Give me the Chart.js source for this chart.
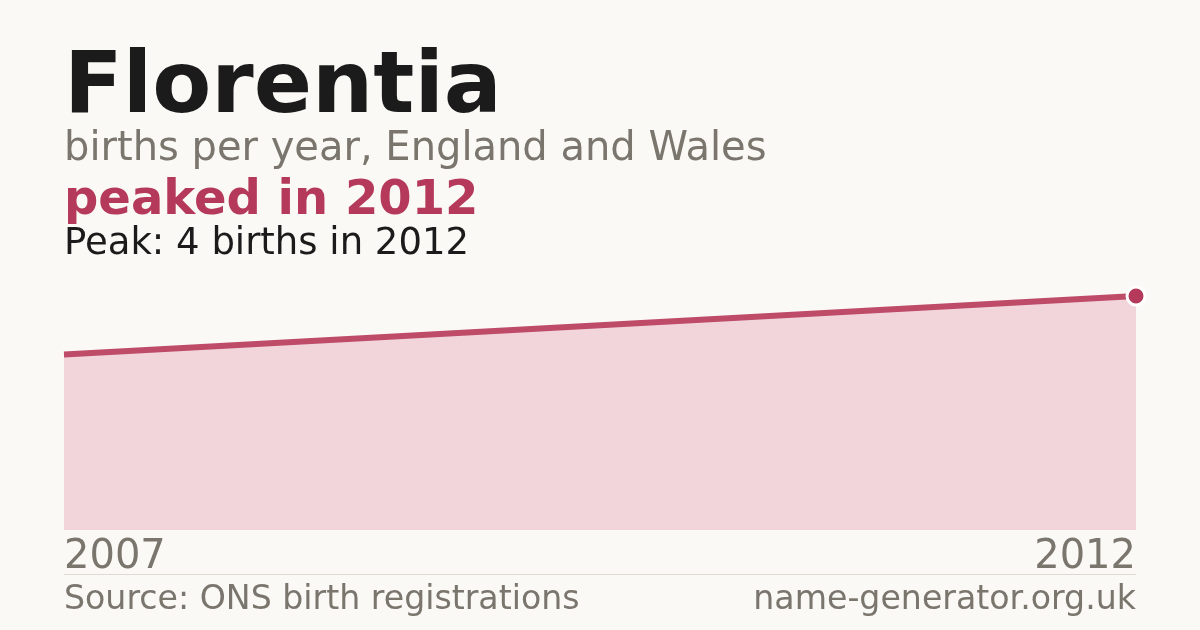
<!DOCTYPE html>
<html>
<head>
<meta charset="utf-8">
<script src="https://cdn.jsdelivr.net/npm/chart.js@4/dist/chart.umd.min.js"></script>
<style>
  html, body { margin: 0; padding: 0; background: #faf9f5; }
  body { width: 1200px; height: 630px; position: relative; overflow: hidden; font-family: "DejaVu Sans", sans-serif; }
  #c { position: absolute; left: 0; top: 0; }
  .t { position: absolute; left: 64px; white-space: nowrap; line-height: 1; }
  #title { top: 39px; font-size: 86px; font-weight: bold; color: #1b1b1b; }
  #sub { top: 126px; font-size: 40px; color: #7a756d; }
  #peaked { top: 173px; font-size: 48px; font-weight: bold; color: #b5395a; }
  #peak { top: 223px; font-size: 37px; color: #1b1b1b; }
  #sep { position: absolute; left: 64px; top: 574px; width: 1072px; height: 1px; background: #dedad2; }
  #src { top: 581px; font-size: 33.2px; color: #7a756d; }
  #site { top: 581px; left: auto; right: 64px; font-size: 33.2px; color: #7a756d; }
</style>
</head>
<body>
<canvas id="c" width="1200" height="630" style="width:1200px;height:630px"></canvas>
<div class="t" id="title">Florentia</div>
<div class="t" id="sub">births per year, England and Wales</div>
<div class="t" id="peaked">peaked in 2012</div>
<div class="t" id="peak">Peak: 4 births in 2012</div>
<div id="sep"></div>
<div class="t" id="src">Source: ONS birth registrations</div>
<div class="t" id="site">name-generator.org.uk</div>
<script>
const years = ['2007', '2012'];
const births = [3, 4];
const peakValue = 4;

Chart.defaults.font.family = '"DejaVu Sans", sans-serif';
const lastIdx = births.length - 1;

new Chart(document.getElementById('c'), {
  type: 'line',
  data: {
    labels: years,
    datasets: [{
      data: births,
      borderColor: '#be4b68',
      borderWidth: 6,
      backgroundColor: '#f1d5db',
      fill: 'origin',
      tension: 0,
      clip: false,
      pointRadius: ctx => ctx.dataIndex === lastIdx ? 9 : 0,
      pointHoverRadius: 0,
      pointBackgroundColor: '#b5395a',
      pointBorderColor: '#ffffff',
      pointBorderWidth: 3
    }]
  },
  options: {
    responsive: false,
    animation: false,
    devicePixelRatio: 1,
    layout: { padding: { left: 64, right: 64, top: 270, bottom: 44 } },
    plugins: { legend: { display: false }, tooltip: { enabled: false } },
    scales: {
      x: {
        offset: false,
        grid: { display: false, drawTicks: false, tickLength: 0 },
        border: { display: false },
        ticks: {
          align: 'inner',
          maxRotation: 0,
          autoSkip: false,
          padding: 4,
          color: '#7a756d',
          font: { size: 40 }
        }
      },
      y: {
        display: false,
        min: 0,
        max: peakValue / 0.9
      }
    }
  }
});
</script>
</body>
</html>
